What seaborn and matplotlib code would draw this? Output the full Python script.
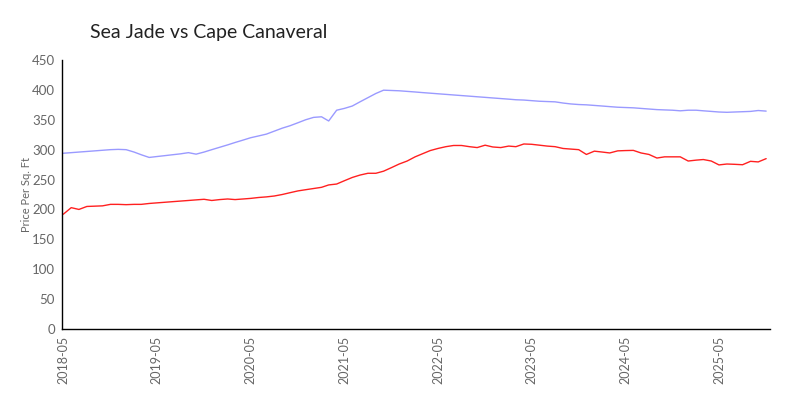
import matplotlib
matplotlib.use('Agg')
import matplotlib.pyplot as plt
import matplotlib.dates as mdates
import pandas as pd
import seaborn as sns

# Monthly price per sq ft, 2018-05 .. 2025-11
months = pd.date_range('2018-05-01', '2025-11-01', freq='MS')

blue_vals = [294, 295, 296, 297, 298, 299, 300, 300.5, 300, 296,
             291.5, 287, 288.5, 290, 291.5, 293, 295, 292.5, 296, 300,
             304, 308, 312, 316, 320, 323, 326, 331, 336, 340,
             345, 350, 354, 355, 348, 366, 369, 373, 380, 387,
             394, 399.5, 399, 398.5, 397.5, 396.5, 395.5, 394.5, 393.5, 392.5,
             391.5, 390.5, 389.5, 388.5, 387.5, 386.5, 385.5, 384.5, 383.5, 383,
             382, 381, 380.5, 380, 378, 376.5, 375.5, 375, 374, 373,
             372, 371, 370.5, 370, 369, 368, 367, 366.5, 366, 365,
             366, 366, 365, 364, 363, 362.5, 363, 363.5, 364, 365.5,
             364.5]

red_vals = [192, 203, 200, 205, 205.5, 206, 208.5, 208.5, 208, 208.5,
            208.5, 210, 211, 212, 213, 214, 215, 216, 217, 215,
            216.5, 217.5, 216.5, 217.5, 218.5, 220, 221, 222.5, 225, 228,
            231, 233, 235, 237, 241, 242.5, 248, 253.5, 257.5, 260.5,
            260.5, 264, 270, 276, 281, 288, 293, 298.5, 302, 305,
            307, 307, 305, 303.5, 307.5, 304.5, 303.5, 306, 305, 309.5,
            309, 307.5, 306, 305, 302, 301, 300, 292, 297.5, 296,
            294.5, 298, 298.5, 298.8, 294.5, 292, 286, 288, 288, 288,
            281, 282.5, 283.5, 281, 274.5, 276, 275.5, 274.8, 280.5, 279.5,
            285]

df = pd.DataFrame({'Month': list(months) * 2,
                   'Price': blue_vals + red_vals,
                   'Series': ['Sea Jade'] * len(months) + ['Cape Canaveral'] * len(months)})

sns.set_style('white')
plt.rcParams['font.family'] = ['Lato', 'DejaVu Sans']

fig = plt.figure(figsize=(8, 4), dpi=100)
ax = fig.add_axes([0.0775, 0.1775, 0.885, 0.6725])

sns.lineplot(data=df, x='Month', y='Price', hue='Series',
             palette={'Sea Jade': '#9a9aff', 'Cape Canaveral': '#ff2020'},
             linewidth=1, legend=False, ax=ax)

ax.set_ylim(0, 450)
ax.set_yticks(range(0, 451, 50))
ax.set_xlim(pd.Timestamp('2018-04-26'), pd.Timestamp('2025-11-16'))

ax.xaxis.set_major_locator(mdates.MonthLocator(bymonth=5))
ax.xaxis.set_major_formatter(mdates.DateFormatter('%Y-%m'))
ax.xaxis.set_minor_locator(mdates.MonthLocator())

for s in ['top', 'right']:
    ax.spines[s].set_visible(False)
for s in ['left', 'bottom']:
    ax.spines[s].set_color('black')
    ax.spines[s].set_linewidth(1)

ax.tick_params(axis='x', which='major', direction='inout', length=6, width=1,
               color='black', labelsize=9, labelcolor='#666666', rotation=90, pad=2)
ax.tick_params(axis='x', which='minor', direction='inout', length=4, width=1,
               color='#cccccc')
ax.tick_params(axis='y', which='major', direction='out', length=4, width=1,
               color='black', labelsize=9.5, labelcolor='#666666', pad=1)

ax.set_xlabel('')
ax.set_ylabel('Price Per Sq. Ft', fontsize=8, color='#666666')
ax.yaxis.set_label_coords(-0.042, 0.5)

fig.text(0.1125, 0.905, 'Sea Jade vs Cape Canaveral', fontsize=14, color='#222222')

fig.savefig('out.png', dpi=100)
